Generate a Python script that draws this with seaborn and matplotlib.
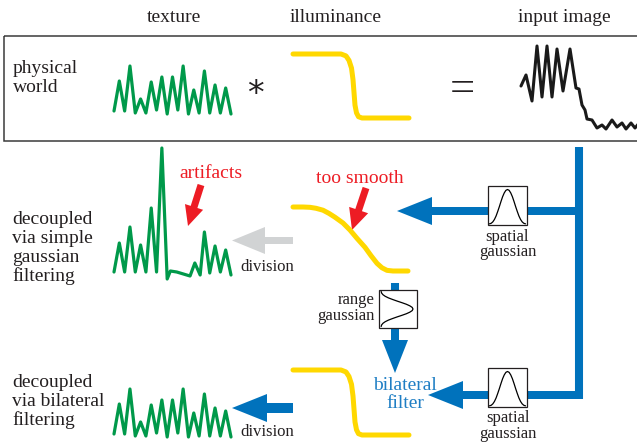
import matplotlib
matplotlib.use("Agg")
import matplotlib.pyplot as plt
from matplotlib.patches import Rectangle, FancyArrow
import seaborn as sns

# === signals (sample position, value) ===
texture_pos = list(range(23))
texture_vals = [3, 33, 3, 48, 1, 15, 1, 32, 4, 37, 0, 37, 4, 48, 0, 24, 1, 43, 1, 29, 1, 26, 0]

# texture recovered with plain gaussian filtering (spike + flat part)
simple_pos = [0, 1, 2, 3, 4, 5, 6, 7, 8, 9, 10, 10.6, 11.8, 14.3, 15.2, 16.2, 17, 18, 19, 20, 21, 22]
simple_vals = [7, 36, 7, 52, 7, 34, 7, 71, 7, 131, 0, 8, 7, 3, 16, 4, 47, 6, 33, 7, 29, 4]

input_pos = [0, 5, 11, 16, 21, 26, 31, 36, 42, 49, 55, 58, 61, 64, 66, 71, 76, 81, 85, 91,
             96, 101, 105, 110, 114, 119]
input_vals = [44, 55, 29, 84, 33, 84, 33, 81, 39, 81, 42, 41, 25, 20, 11, 10, 2, 5, 1, 10,
              3, 7, 1, 7, 2, 8]

# illuminance: sharp step and over-smoothed version
step_pos = [0, 48, 53, 56, 58.5, 60, 61, 62, 63.5, 65.5, 69, 116]
step_vals = [1, 1, 0.97, 0.9, 0.78, 0.6, 0.4, 0.2, 0.08, 0.02, 0, 0]
smooth_pos = [0, 10, 17, 23, 30, 36, 42, 50, 57, 64, 72, 78, 84, 89, 94, 100, 115]
smooth_vals = [1, 1, 0.995, 0.98, 0.95, 0.9, 0.84, 0.75, 0.64, 0.51, 0.37, 0.24, 0.12,
               0.05, 0.01, 0, 0]

# kernel glyph drawn inside the small boxes
kernel_pos = [-11, -10, -9, -8, -7, -6, -5, -4, -3, -2, -1, 0,
              1, 2, 3, 4, 5, 6, 7, 8, 9, 10, 11]
kernel_vals = [0.005, 0.02, 0.06, 0.13, 0.23, 0.36, 0.50, 0.65, 0.79, 0.90, 0.975, 1.0,
               0.975, 0.90, 0.79, 0.65, 0.50, 0.36, 0.23, 0.13, 0.06, 0.02, 0.005]

# === colours ===
GREEN = "#00994a"
YELLOW = "#ffd800"
BLUE = "#0072bc"
BLUE_TXT = "#1f7ec4"
RED = "#ed1c24"
GREY = "#d1d3d4"
INK = "#231f20"

sns.set_style("white")
plt.rcParams["font.family"] = ["Liberation Serif", "DejaVu Serif"]

W, H = 637, 444
fig = plt.figure(figsize=(W / 100, H / 100), dpi=100)
ax = fig.add_axes([0, 0, 1, 1])
ax.set_xlim(0, W)
ax.set_ylim(H, 0)
ax.set_axis_off()


def panel(left, top, right, bottom, xlim, ylim):
    a = fig.add_axes([left / W, 1 - bottom / H, (right - left) / W, (bottom - top) / H])
    a.set_xlim(*xlim)
    a.set_ylim(*ylim)
    a.set_axis_off()
    a.patch.set_alpha(0)
    return a


def trace(a, x, y, color, lw):
    sns.lineplot(x=x, y=y, ax=a, color=color, linewidth=lw, estimator=None,
                 sort=False, clip_on=False)


def arrow(x0, y0, x1, y1, shaft, head_w, head_l, color):
    ax.add_patch(FancyArrow(x0, y0, x1 - x0, y1 - y0, width=shaft, head_width=head_w,
                            head_length=head_l, length_includes_head=True,
                            color=color, lw=0, zorder=2))


def kernel_box(x0, y0, size):
    ax.add_patch(Rectangle((x0, y0), size, size, facecolor="white", edgecolor=INK,
                           lw=0.9, zorder=3))


# === frame "physical world" ===
ax.add_patch(Rectangle((4, 36), 700, 105, fill=False, edgecolor="#3a3a3a", lw=1.1))

# === headers and row labels ===
txt = dict(color=INK, fontsize=14, va="baseline")
ax.text(174, 22, "texture", ha="center", **txt)
ax.text(336, 22, "illuminance", ha="center", **txt)
ax.text(564, 22, "input image", ha="center", **txt)

for s, yb in zip(["physical", "world"], [73, 92]):
    ax.text(13, yb, s, ha="left", **txt)
for s, yb in zip(["decoupled", "via simple", "gaussian", "filtering"], [224, 243, 262, 281]):
    ax.text(12, yb, s, ha="left", **txt)
for s, yb in zip(["decoupled", "via bilateral", "filtering"], [387, 406, 425]):
    ax.text(12, yb, s, ha="left", **txt)

ax.text(255, 104, "*", ha="center", color=INK, fontsize=24, va="baseline",
        family=["DejaVu Sans"])
ax.text(462, 101, "=", ha="center", color=INK, fontsize=32, va="baseline")

# === signals ===
trace(panel(114, 66, 231, 114, (0, 22), (0, 48)), texture_pos, texture_vals, GREEN, 2.3)
trace(panel(114, 389, 231, 437, (0, 22), (0, 48)), texture_pos, texture_vals, GREEN, 2.3)
trace(panel(114, 148, 231, 279, (0, 22), (0, 131)), simple_pos, simple_vals, GREEN, 2.3)
trace(panel(521, 46, 640, 130, (0, 119), (0, 84)), input_pos, input_vals, "#1a1a1a", 2.2)

trace(panel(293, 54, 409, 118, (0, 116), (0, 1)), step_pos, step_vals, YELLOW, 3.6)
trace(panel(293, 207, 408, 271, (0, 115), (0, 1)), smooth_pos, smooth_vals, YELLOW, 3.6)
trace(panel(293, 370, 409, 435, (0, 116), (0, 1)), step_pos, step_vals, YELLOW, 3.6)

# === blue pipeline ===
ax.plot([579, 579], [147, 399], color=BLUE, lw=5.8, solid_capstyle="butt", zorder=2)
arrow(579, 211, 397, 211, 8, 28, 35, BLUE)
arrow(579, 395, 428, 395, 8, 28, 35, BLUE)
ax.plot([395, 395], [283, 291], color=BLUE, lw=5.8, solid_capstyle="butt", zorder=2)
arrow(395, 327, 395, 373, 8, 26, 33, BLUE)
arrow(293, 408, 232, 408, 10, 28, 35, BLUE)
arrow(293, 240.5, 232, 240.5, 7, 27, 33, GREY)

# kernel boxes
kernel_box(488, 186, 39)
kernel_box(488, 368, 39)
kernel_box(379, 290, 38)
trace(panel(489.5, 189.5, 525.5, 224, (-11, 11), (0, 1)), kernel_pos, kernel_vals, "black", 0.9)
trace(panel(489.5, 371.5, 525.5, 406, (-11, 11), (0, 1)), kernel_pos, kernel_vals, "black", 0.9)
trace(panel(381, 291.5, 413, 326.5, (0, 1), (11, -11)), kernel_vals, kernel_pos, "black", 0.9)

small = dict(color=INK, fontsize=12, va="baseline")
ax.text(507.5, 241, "spatial", ha="center", **small)
ax.text(507.5, 256, "gaussian", ha="center", **small)
ax.text(508, 422, "spatial", ha="center", **small)
ax.text(508, 437.5, "gaussian", ha="center", **small)
ax.text(375, 303.5, "range", ha="right", **small)
ax.text(375, 320, "gaussian", ha="right", **small)
ax.text(267, 271, "division", ha="center", **small)
ax.text(267, 435.5, "division", ha="center", **small)

ax.text(405, 390, "bilateral", ha="center", color=BLUE_TXT, fontsize=14, va="baseline")
ax.text(405, 408, "filter", ha="center", color=BLUE_TXT, fontsize=14, va="baseline")

# === red annotations ===
ax.text(211, 178, "artifacts", ha="center", color=RED, fontsize=14, va="baseline")
arrow(201, 185, 188, 226, 7, 19, 20, RED)
ax.text(360, 183, "too smooth", ha="center", color=RED, fontsize=14, va="baseline")
arrow(366, 188, 352, 230, 7, 20, 21, RED)

fig.savefig("out.png", dpi=100)
